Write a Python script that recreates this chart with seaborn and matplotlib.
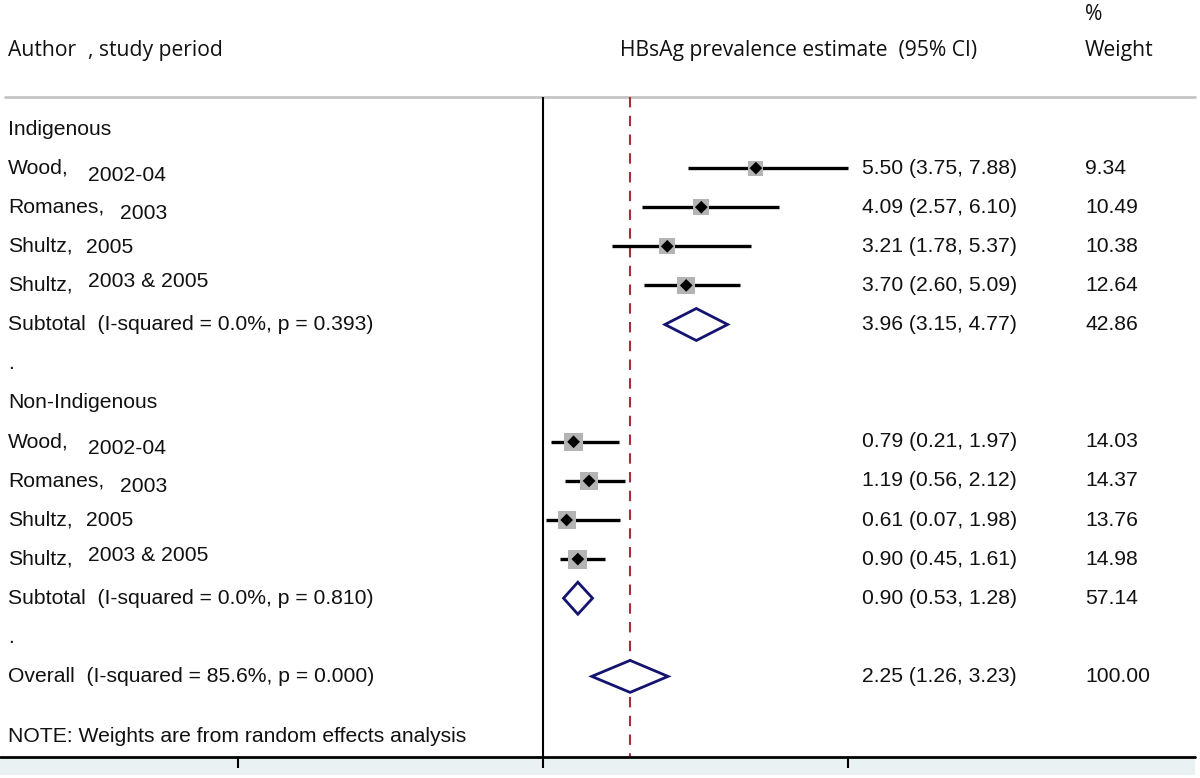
import numpy as np
import pandas as pd
import matplotlib.pyplot as plt
import seaborn as sns

# data
authors = ["Wood,", "Romanes,", "Shultz,", "Shultz,"]
periods = ["2002-04", "2003", "2005", "2003 & 2005"]

indig_est = [5.50, 4.09, 3.21, 3.70]
indig_lo = [3.75, 2.57, 1.78, 2.60]
indig_hi = [7.88, 6.10, 5.37, 5.09]
indig_w = [9.34, 10.49, 10.38, 12.64]

nonind_est = [0.79, 1.19, 0.61, 0.90]
nonind_lo = [0.21, 0.56, 0.07, 0.45]
nonind_hi = [1.97, 2.12, 1.98, 1.61]
nonind_w = [14.03, 14.37, 13.76, 14.98]

sub_labels = ["Subtotal  (I-squared = 0.0%, p = 0.393)",
              "Subtotal  (I-squared = 0.0%, p = 0.810)"]
sub_est = [3.96, 0.90]
sub_lo = [3.15, 0.53]
sub_hi = [4.77, 1.28]
sub_w = [42.86, 57.14]

overall_label = "Overall  (I-squared = 85.6%, p = 0.000)"
overall_est, overall_lo, overall_hi, overall_w = 2.25, 1.26, 3.23, 100.00

# layout (pixel rows, figure is 1200x778)
W, H = 1200, 778
PX_PER_UNIT = 38.71
ZERO_PX = 543
row_y = lambda i: 129 + 39.1 * i
period_x = [88, 120, 86, 88]
period_dy = [7, 6, 1, -4]

sns.set_theme(style="white")
plt.rcParams['font.family'] = ['Liberation Sans', 'DejaVu Sans']

fig = plt.figure(figsize=(12, 7.78), dpi=100)
ax = fig.add_axes([0, 0, 1, 1])
ax.set_xlim(-ZERO_PX / PX_PER_UNIT, (W - ZERO_PX) / PX_PER_UNIT)
ax.set_ylim(H, 0)
ax.axis("off")
tx = ax.get_yaxis_transform()  # x in axes fraction, y in data (pixels)

LFS = 15.2
HFS = 15.2
HFONT = ['Open Sans', 'DejaVu Sans']
TC = "#111111"

# header
ax.text(8 / W, 50, "Author", fontsize=HFS, family=HFONT, va="center", color=TC, transform=tx)
ax.text(88 / W, 50, ", study period", fontsize=HFS, family=HFONT, va="center", color=TC, transform=tx)
ax.text(620 / W, 50, "HBsAg prevalence estimate  (95% CI)", fontsize=HFS, family=HFONT,
        va="center", color=TC, transform=tx)
ax.text(1085 / W, 14, "%", fontsize=HFS, family=HFONT, va="center", color=TC, transform=tx)
ax.text(1085 / W, 50, "Weight", fontsize=HFS, family=HFONT, va="center", color=TC, transform=tx)
ax.plot([5 / W, 1195 / W], [97, 97], color="#c4c4c4", lw=2, transform=tx)

# build study table
rows = []
for grp, est, lo, hi, w, start in [("Indigenous", indig_est, indig_lo, indig_hi, indig_w, 1),
                                    ("Non-Indigenous", nonind_est, nonind_lo, nonind_hi, nonind_w, 8)]:
    for k in range(4):
        rows.append(dict(group=grp, author=authors[k], period=periods[k], est=est[k],
                         lo=lo[k], hi=hi[k], w=w[k], y=row_y(start + k), k=k))
df = pd.DataFrame(rows)

# reference lines
tick_max = max(indig_hi + nonind_hi)
ax.vlines(0, 97, 757, color="black", lw=1.5)
ax.vlines(overall_est, 97, 757, color="#a0303a", lw=1.5, linestyles=(0, (5, 4)))

# CI lines, weight squares, point estimates
ax.hlines(df["y"], df["lo"], df["hi"], color="black", lw=2.4, zorder=2)
sns.scatterplot(data=df, x="est", y="y", size="w", sizes=(12.5 * df["w"].min(), 12.5 * df["w"].max()),
                marker="s", color="#b4b4b4", edgecolor="none", legend=False, ax=ax, zorder=3)
sns.scatterplot(data=df, x="est", y="y", marker="D", s=42, color="black", edgecolor="none",
                legend=False, ax=ax, zorder=4)

# labels and right-hand columns
for _, r in df.iterrows():
    ax.text(8 / W, r["y"], r["author"], fontsize=LFS, va="center", color=TC, transform=tx)
    ax.text(period_x[r["k"]] / W, r["y"] + period_dy[r["k"]], r["period"], fontsize=LFS,
            va="center", color=TC, transform=tx)
    ax.text(862 / W, r["y"], f"{r['est']:.2f} ({r['lo']:.2f}, {r['hi']:.2f})", fontsize=LFS,
            va="center", color=TC, transform=tx)
    ax.text(1085 / W, r["y"], f"{r['w']:.2f}", fontsize=LFS, va="center", color=TC, transform=tx)

ax.text(8 / W, row_y(0), "Indigenous", fontsize=LFS, va="center", color=TC, transform=tx)
ax.text(8 / W, row_y(7), "Non-Indigenous", fontsize=LFS, va="center", color=TC, transform=tx)
ax.text(8 / W, row_y(6), ".", fontsize=LFS, va="center", color=TC, transform=tx)
ax.text(8 / W, row_y(13), ".", fontsize=LFS, va="center", color=TC, transform=tx)


def diamond(y, lo, est, hi, label, w):
    ax.fill([lo, est, hi, est, lo], [y, y - 16, y, y + 16, y], facecolor="white",
            edgecolor="#141470", lw=2, zorder=5)
    ax.text(8 / W, y, label, fontsize=LFS, va="center", color=TC, transform=tx)
    ax.text(862 / W, y, f"{est:.2f} ({lo:.2f}, {hi:.2f})", fontsize=LFS, va="center",
            color=TC, transform=tx)
    ax.text(1085 / W, y, f"{w:.2f}", fontsize=LFS, va="center", color=TC, transform=tx)


diamond(row_y(5), sub_lo[0], sub_est[0], sub_hi[0], sub_labels[0], sub_w[0])
diamond(row_y(12), sub_lo[1], sub_est[1], sub_hi[1], sub_labels[1], sub_w[1])
diamond(row_y(14), overall_lo, overall_est, overall_hi, overall_label, overall_w)

ax.text(8 / W, 736, "NOTE: Weights are from random effects analysis", fontsize=15.2,
        family=['Liberation Sans Narrow', 'Liberation Sans'], va="center", color=TC, transform=tx)

# bottom axis band
ax.axhspan(757, 775, xmin=0, xmax=1195 / W, color="#e9f1f3", lw=0, zorder=0)
ax.plot([0, 1195 / W], [757, 757], color="black", lw=2, transform=tx)
ax.vlines([-tick_max, 0, tick_max], 757, 768, color="black", lw=1.5)

fig.savefig("out.png", dpi=100)
